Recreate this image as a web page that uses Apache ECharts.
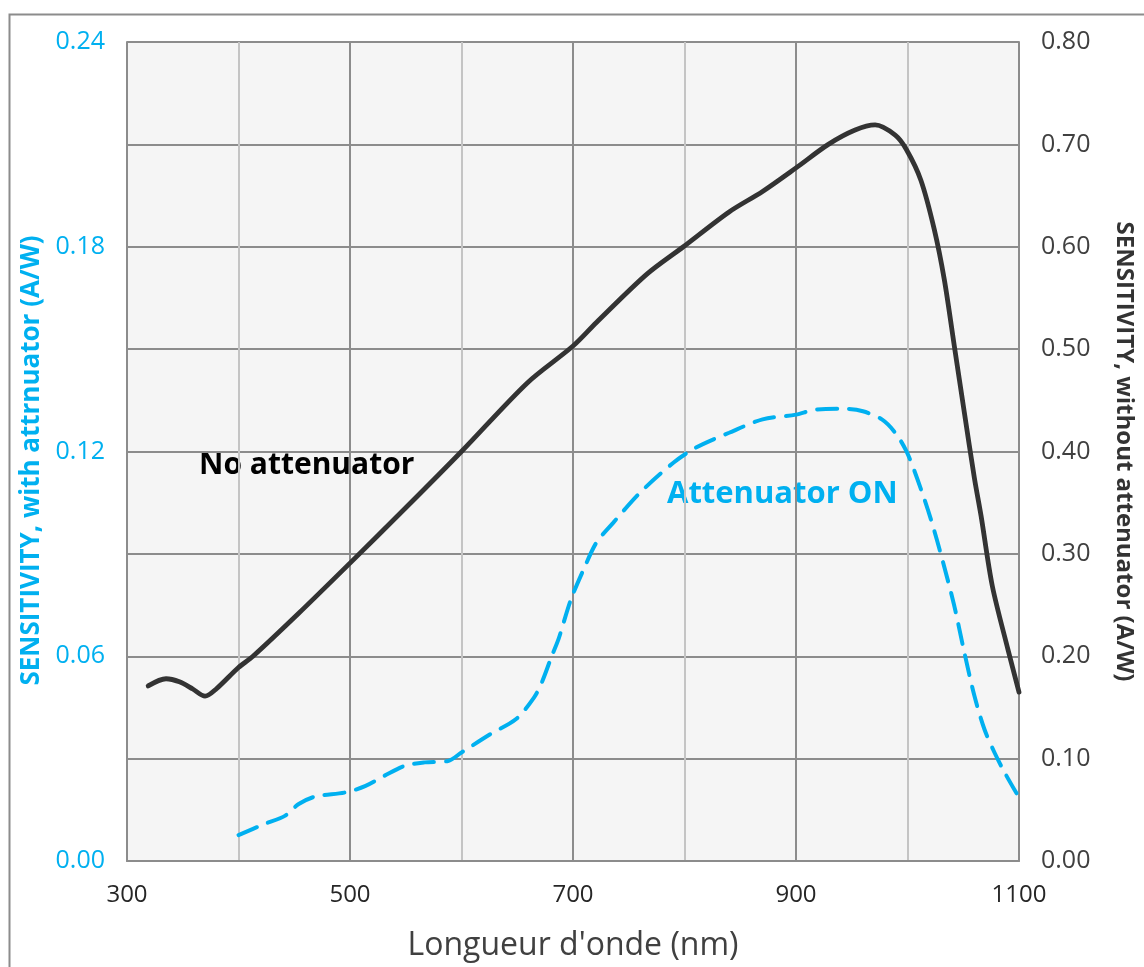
<!DOCTYPE html>
<html>
<head>
<meta charset="utf-8">
<script src="https://cdn.jsdelivr.net/npm/echarts@6/dist/echarts.min.js"></script>
<style>
html,body{margin:0;padding:0;background:#fff;overflow:hidden;}
#chart{width:1144px;height:967px;}
</style>
</head>
<body>
<div id="chart"></div>
<script>
// Wavelength (nm) and sensitivity without attenuator (A/W, right axis)
const wavelengthNoAtt = [319, 335, 347, 359, 370, 380, 400, 413, 454, 500, 550, 600, 659, 700, 721, 766, 799, 840, 870, 900, 929, 953, 971, 989, 999, 1012, 1024, 1033, 1042, 1051, 1060, 1066, 1076, 1090, 1100];
const sensNoAtt = [0.171, 0.178, 0.175, 0.168, 0.161, 0.168, 0.189, 0.200, 0.242, 0.291, 0.345, 0.400, 0.467, 0.503, 0.526, 0.573, 0.600, 0.634, 0.654, 0.677, 0.700, 0.714, 0.719, 0.709, 0.695, 0.665, 0.617, 0.568, 0.503, 0.438, 0.374, 0.337, 0.269, 0.207, 0.165];

// Wavelength (nm) and sensitivity with attenuator (A/W, left axis)
const wavelengthAttOn = [400, 423, 442, 454, 469, 496, 514, 531, 549, 567, 588, 600, 626, 649, 665, 672, 681, 687, 698, 710, 721, 736, 760, 790, 810, 840, 870, 900, 918, 944, 960, 977, 989, 999, 1009, 1021, 1032, 1042, 1051, 1060, 1069, 1078, 1087, 1100];
const sensAttOn = [0.0076, 0.0108, 0.0133, 0.0167, 0.0189, 0.0201, 0.0220, 0.0250, 0.0279, 0.0289, 0.0293, 0.0318, 0.0372, 0.0416, 0.0479, 0.0523, 0.0601, 0.0650, 0.0765, 0.0858, 0.0933, 0.0991, 0.1079, 0.1167, 0.1211, 0.1255, 0.1294, 0.1308, 0.1323, 0.1325, 0.1318, 0.1294, 0.1255, 0.1201, 0.1118, 0.1001, 0.0874, 0.0747, 0.0611, 0.0484, 0.0386, 0.0318, 0.0260, 0.0186];

// Axis settings / labels
const xLabelValues = [300, 500, 700, 900, 1100];
const xAxisTitle = "Longueur d'onde (nm)";
const leftAxisTitle = "SENSITIVITY, with attrnuator (A/W)";
const rightAxisTitle = "SENSITIVITY, without attenuator (A/W)";
const labelNoAtt = "No attenuator";
const labelAttOn = "Attenuator ON";

const FONT = "'Open Sans', 'DejaVu Sans', sans-serif";
const BLUE = '#00b0f0';
const DARK = '#333333';

const chart = echarts.init(document.getElementById('chart'), null, {renderer: 'canvas', width: 1144, height: 967});

const option = {
  animation: false,
  backgroundColor: '#ffffff',
  grid: {
    left: 127, top: 42, width: 898, height: 820,
    show: true, backgroundColor: '#f5f5f5', borderWidth: 0
  },
  xAxis: {
    type: 'value', min: 300, max: 1100, interval: 100,
    name: xAxisTitle, nameLocation: 'middle', nameGap: 69,
    nameTextStyle: {fontFamily: FONT, fontSize: 32, color: '#404040'},
    axisLine: {show: true, lineStyle: {color: '#8c8c8c', width: 2}},
    axisTick: {show: false},
    axisLabel: {
      fontFamily: FONT, fontSize: 24, color: '#262626', margin: 22,
      formatter: v => (xLabelValues.indexOf(v) >= 0 ? String(v) : '')
    },
    splitLine: {show: true, lineStyle: {color: ['#8c8c8c', '#c4c4c4'], width: 2}}
  },
  yAxis: [
    {
      type: 'value', min: 0, max: 0.24, interval: 0.06, position: 'left',
      name: leftAxisTitle, nameLocation: 'middle', nameGap: 78, nameRotate: 90,
      nameTextStyle: {fontFamily: FONT, fontSize: 26, fontWeight: 'bold', color: BLUE, padding: [0, 18, 0, 0]},
      axisLine: {show: true, lineStyle: {color: '#8c8c8c', width: 2}},
      axisTick: {show: false},
      axisLabel: {fontFamily: FONT, fontSize: 25, color: BLUE, margin: 22, formatter: v => v.toFixed(2)},
      splitLine: {show: false}
    },
    {
      type: 'value', min: 0, max: 0.8, interval: 0.1, position: 'right',
      name: rightAxisTitle, nameLocation: 'middle', nameGap: 93, nameRotate: -90,
      nameTextStyle: {fontFamily: FONT, fontSize: 24, fontWeight: 'bold', color: '#333333'},
      axisLine: {show: true, lineStyle: {color: '#8c8c8c', width: 2}},
      axisTick: {show: false},
      axisLabel: {fontFamily: FONT, fontSize: 25, color: '#404040', margin: 22, formatter: v => v.toFixed(2)},
      splitLine: {show: true, lineStyle: {color: '#8c8c8c', width: 2}}
    }
  ],
  series: [
    {
      name: labelAttOn, type: 'line', yAxisIndex: 0, smooth: 0.3, showSymbol: false,
      data: wavelengthAttOn.map((w, i) => [w, sensAttOn[i]]),
      lineStyle: {color: BLUE, width: 4, type: [20, 12], cap: 'round'},
      z: 3
    },
    {
      name: labelNoAtt, type: 'line', yAxisIndex: 1, smooth: 0.3, showSymbol: false,
      data: wavelengthNoAtt.map((w, i) => [w, sensNoAtt[i]]),
      lineStyle: {color: DARK, width: 4.8, cap: 'round', join: 'round'},
      z: 4
    }
  ],
  graphic: [
    {type: 'rect', left: 7, top: 12, shape: {width: 1200, height: 1000}, silent: true,
      style: {fill: 'none', stroke: '#8c8c8c', lineWidth: 2}, z: -10},
    {type: 'text', left: 199, top: 450, silent: true,
      style: {text: labelNoAtt, font: "bold 30px 'Open Sans', sans-serif", fill: '#000000'}},
    {type: 'text', left: 667, top: 479, silent: true,
      style: {text: labelAttOn, font: "bold 31px 'Open Sans', sans-serif", fill: BLUE}}
  ]
};
chart.setOption(option);
</script>
</body>
</html>
